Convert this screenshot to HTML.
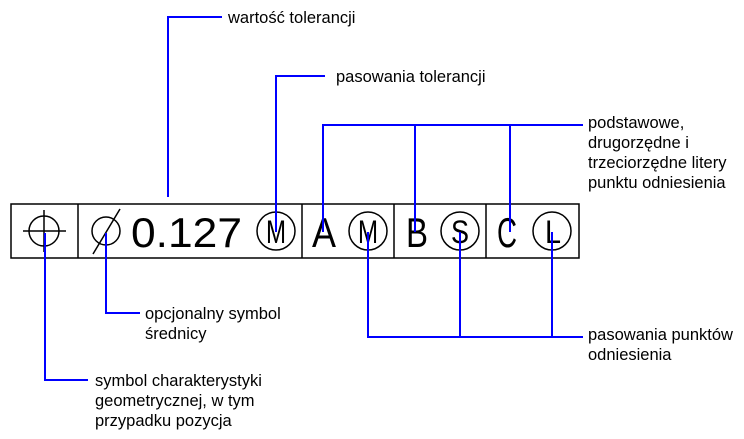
<!DOCTYPE html>
<html><head><meta charset="utf-8"><style>
html,body{margin:0;padding:0;background:#fff;}
svg{display:block;}
text{font-family:"Liberation Sans",sans-serif;}
.l{font-size:16.5px;fill:#000;}
.b{font-size:42px;fill:#000;}
.m{font-size:32px;fill:#000;}
</style></head><body>
<svg width="744" height="439" viewBox="0 0 744 439" xmlns="http://www.w3.org/2000/svg">
<g fill="none" stroke="#000" stroke-width="1.5">
<rect x="11" y="204" width="568" height="54"/>
<line x1="78" y1="204" x2="78" y2="258"/>
<line x1="302" y1="204" x2="302" y2="258"/>
<line x1="394" y1="204" x2="394" y2="258"/>
<line x1="486" y1="204" x2="486" y2="258"/>
<circle cx="44" cy="231" r="15"/>
<line x1="23" y1="231" x2="66" y2="231"/>
<line x1="44" y1="210" x2="44" y2="252"/>
<circle cx="106" cy="231" r="14"/>
<line x1="93" y1="254" x2="120" y2="209"/>
<circle cx="276" cy="231" r="19"/>
<circle cx="368" cy="231" r="19"/>
<circle cx="460" cy="231" r="19"/>
<circle cx="552" cy="231" r="19"/>
</g>
<text class="b" x="131" y="247" textLength="111" lengthAdjust="spacingAndGlyphs">0.127</text>
<text class="m" x="266" y="243" textLength="20" lengthAdjust="spacingAndGlyphs">M</text>
<text class="b" x="312" y="247" textLength="24" lengthAdjust="spacingAndGlyphs">A</text>
<text class="m" x="358" y="243" textLength="20" lengthAdjust="spacingAndGlyphs">M</text>
<text class="b" x="406" y="247" textLength="22" lengthAdjust="spacingAndGlyphs">B</text>
<text class="m" x="451" y="243" textLength="18" lengthAdjust="spacingAndGlyphs">S</text>
<text class="b" x="497" y="247" textLength="20" lengthAdjust="spacingAndGlyphs">C</text>
<text class="m" x="545" y="243" textLength="16" lengthAdjust="spacingAndGlyphs">L</text>
<g fill="none" stroke="#0000ff" stroke-width="2">
<polyline points="168,197 168,17 222,17"/>
<polyline points="276,232 276,76 325,76"/>
<polyline points="323,232 323,125 583,125"/>
<line x1="415" y1="125" x2="415" y2="232"/>
<line x1="510" y1="125" x2="510" y2="232"/>
<polyline points="368,232 368,337 583,337"/>
<line x1="460" y1="232" x2="460" y2="337"/>
<line x1="552" y1="232" x2="552" y2="337"/>
<polyline points="106,233 106,313 140,313"/>
<polyline points="45,233 45,380 88,380"/>
</g>
<text class="l" x="228" y="23">wartość tolerancji</text>
<text class="l" x="336" y="82">pasowania tolerancji</text>
<text class="l" x="588" y="128">podstawowe,</text>
<text class="l" x="588" y="148">drugorzędne i</text>
<text class="l" x="588" y="168">trzeciorzędne litery</text>
<text class="l" x="588" y="188">punktu odniesienia</text>
<text class="l" x="588" y="340">pasowania punktów</text>
<text class="l" x="588" y="360">odniesienia</text>
<text class="l" x="145" y="319">opcjonalny symbol</text>
<text class="l" x="145" y="339">średnicy</text>
<text class="l" x="95" y="386">symbol charakterystyki</text>
<text class="l" x="95" y="406">geometrycznej, w tym</text>
<text class="l" x="95" y="426">przypadku pozycja</text>
</svg>
</body></html>
